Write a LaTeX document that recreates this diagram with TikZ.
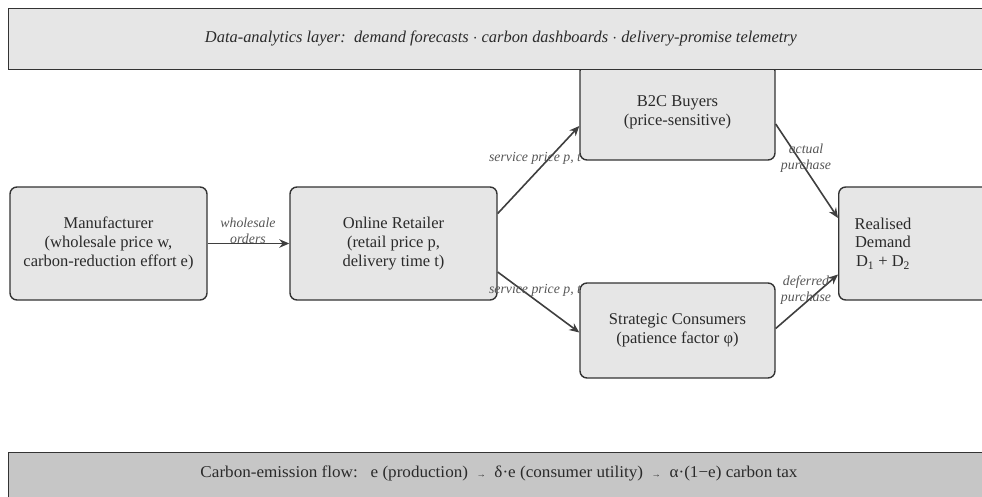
\documentclass[tikz,border=0pt]{standalone}
\usepackage{fontspec}
\setmainfont{Liberation Serif}
\usetikzlibrary{arrows.meta,calc}
\definecolor{boxfill}{HTML}{E6E6E6}
\definecolor{boxline}{HTML}{333333}
\definecolor{bandtwo}{HTML}{C6C6C6}
\definecolor{arrowc}{HTML}{3F3F3F}
\definecolor{labelc}{HTML}{555555}
\definecolor{textc}{HTML}{2A2A2A}
\begin{document}
\begin{tikzpicture}[x=1pt,y=-1pt,
  box/.style={draw=boxline, fill=boxfill, line width=1.4pt, rounded corners=7pt},
  boxtext/.style={align=center, text=textc, font=\fontsize{16.5}{18.8}\selectfont, inner sep=0pt},
  band/.style={draw=boxline, line width=1.4pt, inner sep=0pt},
  flow/.style={draw=arrowc, line width=1.6pt, -{Stealth[length=10pt,width=8.5pt]}},
  lbl/.style={text=labelc, font=\fontsize{13.8}{15.5}\selectfont\itshape, align=center, inner sep=0pt}]
\useasboundingbox (0,0) rectangle (982,497);
% B2C box (top hidden under the banner)
\node[box, boxtext, minimum width=195, minimum height=96] (b2c) at (677.5,112) {B2C Buyers\\(price-sensitive)};
% top banner
\node[band, fill=boxfill, minimum width=986, minimum height=61, anchor=north west] (top) at (8,8) {};
\node[text=textc, inner sep=0pt] (toptext) at (501,38) {\resizebox{592pt}{\height}{\fontsize{16.5}{18}\selectfont\itshape Data-analytics layer:\ \ demand forecasts $\cdot$ carbon dashboards $\cdot$ delivery-promise telemetry}};
% bottom banner
\node[band, fill=bandtwo, minimum width=986, minimum height=60, anchor=north west] (bot) at (8,452) {};
\node[text=textc, inner sep=0pt] (bottext) at (499,473) {\resizebox{597pt}{\height}{\fontsize{16.5}{18}\selectfont Carbon-emission flow:\ \ \ e (production)\ \ {\small →}\ \ δ·e (consumer utility)\ \ {\small →}\ \ α·(1−e) carbon tax}};
% main boxes
\node[box, boxtext, minimum width=197, minimum height=113] (man) at (108.5,243.5) {Manufacturer\\(wholesale price w,\\carbon-reduction effort e)};
\node[box, boxtext, minimum width=207, minimum height=113] (ret) at (393.5,243.5) {Online Retailer\\(retail price p,\\delivery time t)};
\node[box, boxtext, minimum width=195, minimum height=95] (str) at (677.5,330.5) {Strategic Consumers\\(patience factor φ)};
\node[box, minimum width=180, minimum height=113, anchor=west] (rd) at (838,243.5) {};
\node[boxtext] (rdtext) at (883,243.5) {Realised\\Demand\\D\textsubscript{1} + D\textsubscript{2}};
% connectors
\draw[flow] (man.east) -- (ret.west);
\node[lbl] (lwo) at (248,231) {wholesale\\orders};
\draw[flow] ([yshift=30pt]ret.east) -- ([yshift=-14pt]b2c.west);
\node[lbl] (lsp1) at (535,158) {service price p, t};
\draw[flow] ([yshift=-28.5pt]ret.east) -- ([yshift=-2pt]str.west);
\node[lbl] (lsp2) at (535,290) {service price p, t};
\draw[flow] ([yshift=-12pt]b2c.east) -- ([yshift=25.5pt]rd.west);
\node[lbl] (lap) at (806,158) {actual\\purchase};
\draw[flow] ([yshift=2pt]str.east) -- ([yshift=-31pt]rd.west);
\node[lbl] (ldp) at (806,290) {deferred\\purchase};
\end{tikzpicture}
\end{document}
